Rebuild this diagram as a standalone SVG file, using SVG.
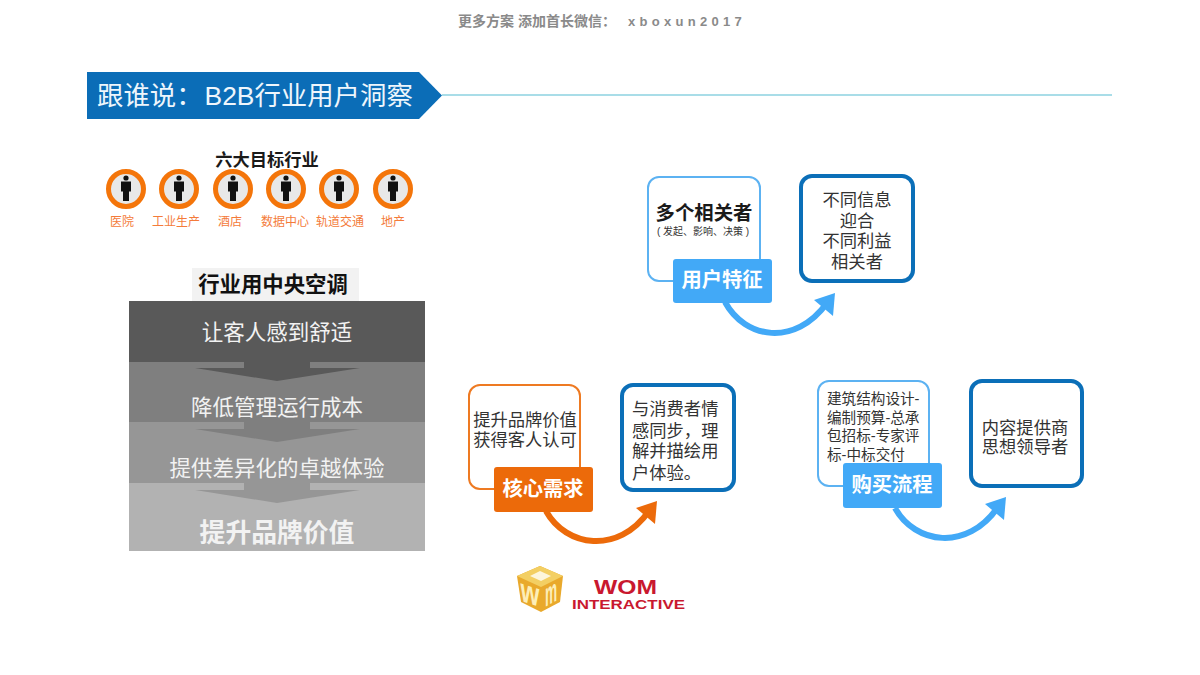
<svg xmlns="http://www.w3.org/2000/svg" width="1200" height="675" viewBox="0 0 1200 675">
<style>
text{font-family:"Liberation Sans","Noto Sans CJK SC",sans-serif;dominant-baseline:central;text-anchor:middle}
.l{text-anchor:start}
.b{font-weight:700}
.w{fill:#f2f2f2}
.d{fill:#333;font-size:17.3px}
.tag{fill:#fff;font-size:20.3px;font-weight:700}
.lab{fill:#f47b3a;font-size:12px}
.stack{fill:#f2f2f2;font-size:21.5px}
.blue{fill:#fff;stroke:#5cb2f2;stroke-width:2}
.org{fill:#fff;stroke:#ee7a22;stroke-width:2}
.dark{fill:#fff;stroke:#0b6fb8;stroke-width:4}
.arcb{fill:none;stroke:#42a9f7;stroke-width:6}
.arco{fill:none;stroke:#ec6a0a;stroke-width:6}
.ring{fill:#e8e8e8;stroke:#f4750a;stroke-width:5}
</style>
<defs>
<g id="person"><circle cx="0" cy="-11" r="2.6" fill="#111"/><path d="M-5-7.500H5V2.500H3V12H-3V2.500H-5Z" fill="#111"/></g>
</defs>

<text x="458" y="21" class="l b" font-size="14" fill="#8a8a8a">更多方案 添加首长微信：<tspan x="628" font-size="13" style="letter-spacing:4.300px">xboxun2017</tspan></text>

<g id="banner">
<path d="M87 72H419L442 95.500L419 119H87Z" fill="#0b6db7"/>
<text x="97" y="96" class="l" font-size="26.400" fill="#eef6fc">跟谁说：<tspan dx="2">B2B行业用户洞察</tspan></text>
</g>

<g id="industries">
<text x="267" y="160" class="b" font-size="17.300" fill="#1a1a1a">六大目标行业</text>
<g id="i1"><circle cx="126" cy="189" r="17.500" class="ring"/><use href="#person" x="126" y="189"/><text x="122" y="222" class="lab">医院</text></g>
<g id="i2"><circle cx="179" cy="189" r="17.500" class="ring"/><use href="#person" x="179" y="189"/><text x="176" y="222" class="lab">工业生产</text></g>
<g id="i3"><circle cx="233" cy="189" r="17.500" class="ring"/><use href="#person" x="233" y="189"/><text x="230" y="222" class="lab">酒店</text></g>
<g id="i4"><circle cx="286" cy="189" r="17.500" class="ring"/><use href="#person" x="286" y="189"/><text x="285" y="222" class="lab">数据中心</text></g>
<g id="i5"><circle cx="339" cy="189" r="17.500" class="ring"/><use href="#person" x="339" y="189"/><text x="340" y="222" class="lab">轨道交通</text></g>
<g id="i6"><circle cx="393" cy="189" r="17.500" class="ring"/><use href="#person" x="393" y="189"/><text x="393" y="222" class="lab">地产</text></g>
</g>

<g id="stack">
<rect x="192" y="268" width="167" height="33" fill="#f2f2f2"/>
<text x="273" y="285" class="b" font-size="21.400" fill="#111">行业用中央空调</text>
<rect x="129" y="301" width="296" height="61" fill="#595959"/>
<rect x="129" y="362" width="296" height="60" fill="#7f7f7f"/>
<rect x="129" y="422" width="296" height="61" fill="#969696"/>
<rect x="129" y="483" width="296" height="68" fill="#b2b2b2"/>
<path d="M244 362H310V368H360L277 381L195 368H244Z" fill="#595959"/>
<path d="M244 422H310V429H360L277 442L195 429H244Z" fill="#7f7f7f"/>
<path d="M244 483H310V490H360L277 503L195 490H244Z" fill="#969696"/>
<text x="277" y="333" class="stack">让客人感到舒适</text>
<text x="277" y="408" class="stack">降低管理运行成本</text>
<text x="277" y="469" class="stack">提供差异化的卓越体验</text>
<text x="277" y="533" class="w b" font-size="25.800">提升品牌价值</text>
</g>

<g id="connectors">
<path d="M442 95H1112" stroke="#a9dde8" stroke-width="2" fill="none"/>
<path d="M725 302C745 339 795 347 827 303" class="arcb"/>
<path d="M835 293L833 316L814 300Z" fill="#42a9f7"/>
<path d="M546 511C566 547 618 555 649 511" class="arco"/>
<path d="M657 501L655 524L636 508Z" fill="#ec6a0a"/>
<path d="M895 508C915 544 967 552 998 507" class="arcb"/>
<path d="M1006 497L1004 520L985 504Z" fill="#42a9f7"/>
</g>

<g id="user-left"><rect x="648" y="177" width="112" height="104" rx="11" class="blue"/>
<text x="704" y="213" class="b" font-size="19.400" fill="#1a1a1a">多个相关者</text>
<text x="703" y="231" font-size="10" fill="#333">( 发起、影响、决策 )</text></g>
<g id="user-tag"><rect x="673" y="259" width="99" height="44" rx="3" fill="#42a9f7"/><text x="722" y="280" class="tag">用户特征</text></g>
<g id="user-right"><rect x="801" y="176" width="112" height="105" rx="11" class="dark"/>
<text x="857" y="200" class="d">不同信息</text><text x="857" y="221" class="d">迎合</text><text x="857" y="241" class="d">不同利益</text><text x="857" y="262" class="d">相关者</text></g>

<g id="need-left"><rect x="469" y="385" width="111" height="104" rx="11" class="org"/>
<text x="525" y="420" class="d">提升品牌价值</text><text x="525" y="440" class="d">获得客人认可</text></g>
<g id="need-tag"><rect x="494" y="467" width="99" height="45" rx="3" fill="#ec6a0a"/><text x="543" y="489" class="tag">核心需求</text></g>
<g id="need-right"><rect x="622" y="385" width="112" height="105" rx="11" class="dark"/>
<text x="632" y="409" class="d l">与消费者情</text><text x="632" y="431" class="d l">感同步，理</text><text x="632" y="451" class="d l">解并描绘用</text><text x="632" y="473" class="d l">户体验。</text></g>

<g id="buy-left"><rect x="818" y="381" width="111" height="105" rx="11" class="blue"/>
<g font-size="14.600" fill="#333"><text x="827" y="399" class="l">建筑结构设计-</text><text x="827" y="418" class="l">编制预算-总承</text><text x="827" y="436" class="l">包招标-专家评</text><text x="827" y="455" class="l">标-中标交付</text></g></g>
<g id="buy-tag"><rect x="843" y="463" width="99" height="45" rx="3" fill="#42a9f7"/><text x="892" y="485" class="tag">购买流程</text></g>
<g id="buy-right"><rect x="971" y="381" width="111" height="105" rx="11" class="dark"/>
<text x="1025" y="428" class="d">内容提供商</text><text x="1025" y="447" class="d">思想领导者</text></g>

<g id="logo">
<path d="M540 566L563 576L560 602L541 612L521 602L517 576Z" fill="#e9a92c"/>
<path d="M540 566L563 576L541 587L517 576Z" fill="#f3cf63"/>
<path d="M540 571L551 576L541 581L530 576Z" fill="#fdf6dc"/>
<text transform="matrix(1.100 .35 0 1.500 530 592)" font-size="22" class="b" fill="#fdeeb8">w</text>
<text transform="matrix(.62 -.35 0 1.500 551 592)" font-size="22" class="b" fill="#fdeeb8">m</text>
<text x="625.500" y="586" font-size="21" class="b" fill="#c9182f" textLength="63" lengthAdjust="spacingAndGlyphs">WOM</text>
<text x="628.500" y="604" font-size="13.500" class="b" fill="#c9182f" textLength="113" lengthAdjust="spacingAndGlyphs">INTERACTIVE</text>
</g>
</svg>
